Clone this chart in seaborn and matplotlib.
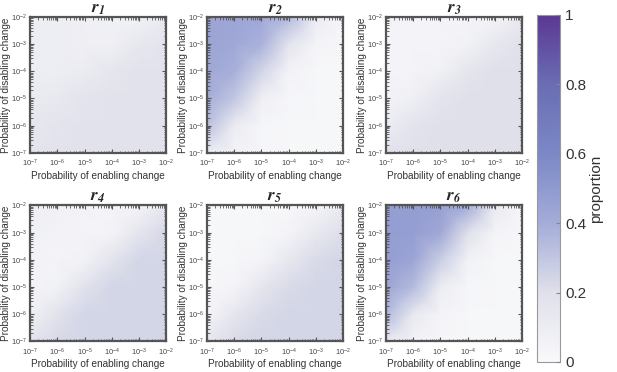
import matplotlib
matplotlib.use("Agg")
import matplotlib.pyplot as plt
import numpy as np
import seaborn as sns

# grid of probabilities (decades) on both axes
enabling = [1e-7, 1e-6, 1e-5, 1e-4, 1e-3, 1e-2]
disabling = [1e-7, 1e-6, 1e-5, 1e-4, 1e-3, 1e-2]

# proportion, rows = disabling (1e-7 -> 1e-2), cols = enabling
r1 = [[0.17, 0.18, 0.18, 0.18, 0.18, 0.18],
      [0.14, 0.17, 0.18, 0.18, 0.18, 0.18],
      [0.11, 0.13, 0.17, 0.18, 0.18, 0.18],
      [0.09, 0.09, 0.11, 0.15, 0.18, 0.18],
      [0.09, 0.09, 0.08, 0.08, 0.14, 0.17],
      [0.09, 0.09, 0.08, 0.06, 0.06, 0.12]]
r2 = [[0.10, 0.05, 0.03, 0.02, 0.02, 0.02],
      [0.32, 0.11, 0.03, 0.02, 0.02, 0.02],
      [0.40, 0.30, 0.08, 0.03, 0.02, 0.02],
      [0.42, 0.39, 0.24, 0.05, 0.02, 0.02],
      [0.44, 0.42, 0.38, 0.17, 0.04, 0.02],
      [0.44, 0.44, 0.42, 0.35, 0.11, 0.03]]
r3 = [[0.19, 0.20, 0.20, 0.20, 0.20, 0.20],
      [0.10, 0.17, 0.20, 0.20, 0.20, 0.20],
      [0.05, 0.08, 0.17, 0.20, 0.20, 0.20],
      [0.04, 0.04, 0.07, 0.16, 0.20, 0.20],
      [0.04, 0.04, 0.04, 0.06, 0.14, 0.19],
      [0.05, 0.04, 0.04, 0.04, 0.05, 0.13]]
r4 = [[0.17, 0.23, 0.24, 0.24, 0.24, 0.24],
      [0.07, 0.18, 0.24, 0.24, 0.24, 0.24],
      [0.04, 0.06, 0.18, 0.24, 0.24, 0.24],
      [0.05, 0.04, 0.06, 0.17, 0.24, 0.24],
      [0.07, 0.05, 0.04, 0.05, 0.16, 0.23],
      [0.08, 0.07, 0.05, 0.04, 0.05, 0.14]]
r5 = [[0.14, 0.22, 0.24, 0.24, 0.24, 0.24],
      [0.04, 0.15, 0.22, 0.24, 0.24, 0.24],
      [0.02, 0.04, 0.15, 0.22, 0.24, 0.24],
      [0.02, 0.02, 0.04, 0.14, 0.22, 0.24],
      [0.02, 0.02, 0.02, 0.04, 0.13, 0.21],
      [0.02, 0.02, 0.02, 0.02, 0.04, 0.11]]
r6 = [[0.12, 0.05, 0.03, 0.02, 0.02, 0.02],
      [0.35, 0.13, 0.04, 0.02, 0.02, 0.02],
      [0.44, 0.34, 0.10, 0.03, 0.02, 0.02],
      [0.47, 0.44, 0.27, 0.06, 0.02, 0.02],
      [0.48, 0.47, 0.42, 0.20, 0.04, 0.02],
      [0.48, 0.48, 0.47, 0.40, 0.13, 0.03]]

panels = [r1, r2, r3, r4, r5, r6]
titles = ["1", "2", "3", "4", "5", "6"]
cbar_ticks = [0, 0.2, 0.4, 0.6, 0.8, 1]

sns.set_style("white")
plt.rcParams["font.family"] = ["Liberation Sans", "DejaVu Sans"]
plt.rcParams["mathtext.fontset"] = "stix"
plt.rcParams["axes.axisbelow"] = False

# white -> grey lavender -> periwinkle -> purple
cmap = sns.blend_palette(["#f9f9fb", "#dfe0ea", "#a4acd9", "#7b88c6",
                          "#6a6db4", "#5b3894"], as_cmap=True)

fig = plt.figure(figsize=(6.17, 3.72), dpi=100)

lefts = [0.049, 0.3355, 0.6256]
bottoms = [0.589, 0.082]
w, h = 0.2204, 0.3656
frame_col = "#555555"

for i, vals in enumerate(panels):
    ax = fig.add_axes([lefts[i % 3], bottoms[i // 3], w, h])
    X, Y = np.meshgrid(enabling, disabling)
    mesh = ax.pcolormesh(X, Y, np.array(vals), shading="gouraud",
                         cmap=cmap, vmin=0, vmax=1)
    ax.set_axisbelow(False)
    ax.set_xscale("log")
    ax.set_yscale("log")
    ax.set_xlim(enabling[0], enabling[-1])
    ax.set_ylim(disabling[0], disabling[-1])
    ax.set_xticks(enabling)
    ax.set_yticks(disabling)
    ax.tick_params(which="both", direction="in", bottom=True, left=True,
                   top=True, right=True, color=frame_col,
                   labelsize=5.3, labelcolor="#444444")
    ax.tick_params(axis="x", pad=3.8)
    ax.tick_params(axis="y", pad=2.2)
    ax.tick_params(which="major", length=3.2, width=0.8)
    ax.tick_params(which="minor", length=1.8, width=0.6)
    for s in ax.spines.values():
        s.set_color(frame_col)
        s.set_linewidth(1.6)
    ax.set_xlabel("Probability of enabling change", fontsize=7.2,
                  color="#333333", labelpad=1)
    ax.set_ylabel("Probability of disabling change", fontsize=7.2,
                  color="#333333", labelpad=0)
    ax.set_title(r"$\mathbfit{r}_{\mathbfit{" + titles[i] + "}}$",
                 fontsize=12.5, pad=1)

cax = fig.add_axes([0.870, 0.027, 0.037, 0.933])
cb = fig.colorbar(mesh, cax=cax, ticks=cbar_ticks)
cb.outline.set_edgecolor("#999999")
cb.outline.set_linewidth(0.8)
cax.set_axisbelow(False)
cax.tick_params(direction="in", right=True, length=3, color="#888888",
                labelsize=11, labelcolor="#333333", pad=4)
cax.set_yticklabels(["0", "0.2", "0.4", "0.6", "0.8", "1"])
cb.set_label("proportion", fontsize=11, color="#333333", labelpad=2)

fig.savefig("out.png", dpi=100)
